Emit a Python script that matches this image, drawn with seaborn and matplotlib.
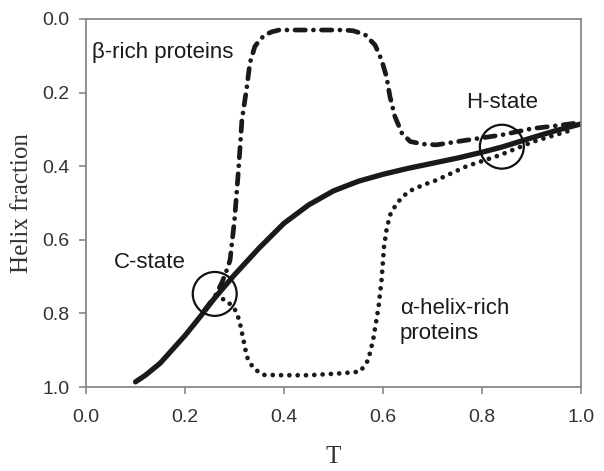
import matplotlib
matplotlib.use("Agg")
import matplotlib.pyplot as plt
import seaborn as sns

# solid curve (all proteins)
t_all = [0.10, 0.12, 0.15, 0.18, 0.20, 0.23, 0.26, 0.30, 0.35, 0.40, 0.45,
         0.50, 0.55, 0.60, 0.65, 0.70, 0.75, 0.80, 0.84, 0.90, 0.95, 1.00]
frac_all = [0.986, 0.968, 0.935, 0.89, 0.86, 0.81, 0.758, 0.695, 0.622, 0.555, 0.505,
            0.467, 0.441, 0.422, 0.406, 0.392, 0.378, 0.362, 0.348, 0.323, 0.303, 0.285]

# dash-dot curve (beta-rich proteins)
t_beta = [0.24, 0.26, 0.275, 0.285, 0.291, 0.30, 0.308, 0.315, 0.325, 0.331, 0.341,
          0.352, 0.362, 0.375, 0.39, 0.45, 0.52, 0.54, 0.564, 0.584, 0.597, 0.607,
          0.614, 0.624, 0.638, 0.655, 0.681, 0.708, 0.77, 0.84, 0.90, 0.95, 0.99]
frac_beta = [0.79, 0.755, 0.715, 0.68, 0.655, 0.546, 0.41, 0.274, 0.184, 0.12, 0.075,
             0.055, 0.043, 0.035, 0.03, 0.03, 0.03, 0.032, 0.043, 0.071, 0.111, 0.157,
             0.211, 0.265, 0.31, 0.333, 0.34, 0.342, 0.329, 0.315, 0.298, 0.29, 0.283]

# dotted curve (alpha-helix-rich proteins)
t_alpha = [0.24, 0.26, 0.284, 0.304, 0.311, 0.318, 0.325, 0.338, 0.358, 0.40, 0.45,
           0.513, 0.554, 0.57, 0.58, 0.591, 0.597, 0.602, 0.607, 0.614, 0.628, 0.651,
           0.681, 0.708, 0.769, 0.836, 0.904, 0.971, 0.985]
frac_alpha = [0.79, 0.755, 0.764, 0.795, 0.827, 0.872, 0.918, 0.949, 0.967, 0.968, 0.968,
              0.963, 0.958, 0.927, 0.872, 0.782, 0.709, 0.619, 0.573, 0.533, 0.50, 0.469,
              0.451, 0.438, 0.40, 0.37, 0.333, 0.306, 0.30]

# circled states
state_t = [0.26, 0.84]
state_frac = [0.747, 0.347]

ticks = [0.0, 0.2, 0.4, 0.6, 0.8, 1.0]

sns.set_style("ticks")
plt.rcParams['font.family'] = ['Liberation Sans', 'DejaVu Sans']

fig = plt.figure(figsize=(6.04, 4.71), dpi=100)
ax = fig.add_axes([0.1424, 0.1783, 0.8196, 0.7814])

sns.lineplot(x=t_alpha, y=frac_alpha, color="#1a1a1a", lw=3.4, sort=False,
             linestyle=(0, (0.01, 1.75)), dash_capstyle="round", ax=ax)
sns.lineplot(x=t_beta, y=frac_beta, color="#1a1a1a", lw=3.4, sort=False,
             linestyle=(0, (2.2, 1.7, 0.01, 1.7)), dash_capstyle="round", ax=ax)
sns.lineplot(x=t_all, y=frac_all, color="#1a1a1a", lw=3.8, sort=False,
             solid_capstyle="round", solid_joinstyle="round", ax=ax)
ax.scatter(state_t, state_frac, s=1000, facecolors="none", edgecolors="#111111",
           linewidths=1.6, zorder=5)

ax.set_xlim(0, 1)
ax.set_ylim(1, 0)
ax.set_xticks(ticks)
ax.set_yticks(ticks)
ax.set_xticklabels([f"{v:.1f}" for v in ticks])
ax.set_yticklabels([f"{v:.1f}" for v in ticks])
ax.tick_params(direction="out", length=5, width=1.2, color="#888888",
               labelsize=14, labelcolor="#333333")
ax.tick_params(axis="x", pad=11)
ax.tick_params(axis="y", pad=7)
for sp in ax.spines.values():
    sp.set_visible(True)
    sp.set_color("#888888")
    sp.set_linewidth(1.3)

ax.set_xlabel("T", family="Liberation Serif", fontsize=18, color="#333333")
ax.set_ylabel("Helix fraction", family="Liberation Serif", fontsize=18, color="#333333")
ax.xaxis.set_label_coords(0.5, -0.16)
ax.yaxis.set_label_coords(-0.107, 0.5)

txt = dict(fontsize=16, color="#1a1a1a", va="center", ha="left")
ax.text(0.013, 0.09, "β-rich proteins", **txt)
ax.text(0.768, 0.226, "H-state", **txt)
ax.text(0.057, 0.663, "C-state", **txt)
ax.text(0.634, 0.82, "α-helix-rich\nproteins", linespacing=1.25, **txt)

fig.savefig("out.png", dpi=100)
